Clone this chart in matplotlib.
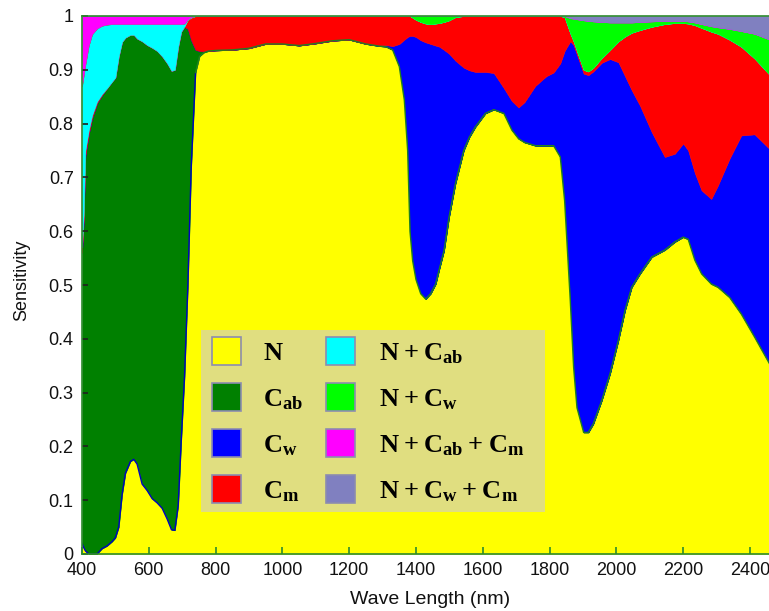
import numpy as np
import matplotlib
matplotlib.use("Agg")
import matplotlib.pyplot as plt
from matplotlib.patches import Rectangle

# Wavelength grid (nm)
wavelength = [
    400, 405, 410, 420, 430, 445, 460, 475, 490, 500,
    510, 520, 530, 545, 555, 565, 580, 595, 610, 625,
    640, 655, 668, 678, 688, 697, 707, 717, 727, 740,
    752, 765, 780, 800, 850, 900, 950, 1000, 1050, 1100,
    1150, 1200, 1250, 1290, 1310, 1330, 1350, 1365, 1375, 1382,
    1390, 1400, 1414, 1429, 1444, 1459, 1470, 1484, 1499, 1518,
    1543, 1560, 1578, 1608, 1633, 1663, 1687, 1707, 1725, 1757,
    1790, 1812, 1832, 1845, 1862, 1872, 1882, 1902, 1916, 1931,
    1956, 1981, 2006, 2026, 2046, 2071, 2106, 2145, 2175, 2200,
    2215, 2235, 2255, 2284, 2304, 2339, 2374, 2414, 2460,
]

# Cumulative sensitivity (upper edge of each stacked band)
n_top = [
    0.020, 0.012, 0.006, 0.000, 0.000, 0.000, 0.010, 0.015, 0.023, 0.030,
    0.050, 0.110, 0.150, 0.172, 0.176, 0.167, 0.130, 0.118, 0.103, 0.095,
    0.085, 0.065, 0.045, 0.044, 0.090, 0.210, 0.330, 0.500, 0.720, 0.895,
    0.925, 0.932, 0.935, 0.936, 0.937, 0.940, 0.948, 0.948, 0.945, 0.949,
    0.954, 0.956, 0.948, 0.944, 0.943, 0.937, 0.906, 0.844, 0.750, 0.600,
    0.545, 0.510, 0.484, 0.474, 0.484, 0.502, 0.530, 0.564, 0.626, 0.688,
    0.750, 0.775, 0.794, 0.819, 0.826, 0.819, 0.788, 0.772, 0.765, 0.759,
    0.759, 0.759, 0.738, 0.657, 0.471, 0.347, 0.272, 0.226, 0.226, 0.242,
    0.285, 0.335, 0.397, 0.453, 0.496, 0.521, 0.552, 0.565, 0.580, 0.589,
    0.585, 0.546, 0.521, 0.502, 0.496, 0.477, 0.446, 0.403, 0.352,
]

cab_top = [
    0.560, 0.620, 0.740, 0.780, 0.810, 0.838, 0.853, 0.866, 0.878, 0.886,
    0.925, 0.952, 0.960, 0.965, 0.965, 0.958, 0.953, 0.946, 0.941, 0.935,
    0.925, 0.912, 0.898, 0.900, 0.943, 0.971, 0.980, 0.976, 0.955, 0.937,
    0.935, 0.934, 0.935, 0.936, 0.937, 0.940, 0.948, 0.948, 0.945, 0.949,
    0.954, 0.956, 0.948, 0.944, 0.943, 0.937, 0.906, 0.844, 0.750, 0.600,
    0.545, 0.510, 0.484, 0.474, 0.484, 0.502, 0.530, 0.564, 0.626, 0.688,
    0.750, 0.775, 0.794, 0.819, 0.826, 0.819, 0.788, 0.772, 0.765, 0.759,
    0.759, 0.759, 0.738, 0.657, 0.471, 0.347, 0.272, 0.226, 0.226, 0.242,
    0.285, 0.335, 0.397, 0.453, 0.496, 0.521, 0.552, 0.565, 0.580, 0.589,
    0.585, 0.546, 0.521, 0.502, 0.496, 0.477, 0.446, 0.403, 0.352,
]

cw_top = [
    0.560, 0.620, 0.740, 0.780, 0.810, 0.838, 0.853, 0.866, 0.878, 0.886,
    0.925, 0.952, 0.960, 0.965, 0.965, 0.958, 0.953, 0.946, 0.941, 0.935,
    0.925, 0.912, 0.898, 0.900, 0.943, 0.971, 0.980, 0.976, 0.955, 0.937,
    0.935, 0.934, 0.935, 0.936, 0.937, 0.940, 0.948, 0.948, 0.945, 0.949,
    0.954, 0.956, 0.948, 0.945, 0.946, 0.944, 0.948, 0.956, 0.961, 0.963,
    0.963, 0.961, 0.955, 0.951, 0.948, 0.945, 0.943, 0.937, 0.930, 0.917,
    0.904, 0.899, 0.896, 0.896, 0.894, 0.866, 0.842, 0.830, 0.840, 0.870,
    0.888, 0.895, 0.912, 0.935, 0.953, 0.946, 0.928, 0.893, 0.890, 0.897,
    0.913, 0.920, 0.914, 0.888, 0.862, 0.833, 0.784, 0.738, 0.744, 0.763,
    0.750, 0.708, 0.676, 0.660, 0.685, 0.735, 0.778, 0.780, 0.752,
]

cm_top = [
    0.570, 0.630, 0.750, 0.787, 0.815, 0.841, 0.855, 0.866, 0.878, 0.886,
    0.925, 0.952, 0.960, 0.965, 0.965, 0.958, 0.953, 0.946, 0.941, 0.935,
    0.925, 0.912, 0.898, 0.900, 0.943, 0.971, 0.981, 0.993, 0.997, 1.000,
    1.000, 1.000, 1.000, 1.000, 1.000, 1.000, 1.000, 1.000, 1.000, 1.000,
    1.000, 1.000, 1.000, 1.000, 1.000, 1.000, 1.000, 1.000, 1.000, 1.000,
    0.997, 0.993, 0.989, 0.986, 0.985, 0.986, 0.987, 0.989, 0.992, 0.998,
    1.000, 1.000, 1.000, 1.000, 1.000, 1.000, 1.000, 1.000, 1.000, 1.000,
    1.000, 1.000, 1.000, 0.998, 0.968, 0.953, 0.935, 0.900, 0.897, 0.904,
    0.922, 0.937, 0.953, 0.962, 0.969, 0.974, 0.980, 0.985, 0.987, 0.987,
    0.986, 0.983, 0.978, 0.971, 0.967, 0.956, 0.943, 0.921, 0.890,
]

ncab_top = [
    0.870, 0.890, 0.910, 0.945, 0.966, 0.977, 0.982, 0.984, 0.985, 0.985,
    0.985, 0.985, 0.985, 0.985, 0.985, 0.985, 0.985, 0.985, 0.985, 0.985,
    0.985, 0.985, 0.985, 0.985, 0.985, 0.985, 0.986, 0.994, 0.998, 1.000,
    1.000, 1.000, 1.000, 1.000, 1.000, 1.000, 1.000, 1.000, 1.000, 1.000,
    1.000, 1.000, 1.000, 1.000, 1.000, 1.000, 1.000, 1.000, 1.000, 1.000,
    0.997, 0.993, 0.989, 0.986, 0.985, 0.986, 0.987, 0.989, 0.992, 0.998,
    1.000, 1.000, 1.000, 1.000, 1.000, 1.000, 1.000, 1.000, 1.000, 1.000,
    1.000, 1.000, 1.000, 0.998, 0.968, 0.953, 0.935, 0.900, 0.897, 0.904,
    0.922, 0.937, 0.953, 0.962, 0.969, 0.974, 0.980, 0.985, 0.987, 0.987,
    0.986, 0.983, 0.978, 0.971, 0.967, 0.956, 0.943, 0.921, 0.890,
]

ncw_top = [
    0.870, 0.890, 0.910, 0.945, 0.966, 0.977, 0.982, 0.984, 0.985, 0.985,
    0.985, 0.985, 0.985, 0.985, 0.985, 0.985, 0.985, 0.985, 0.985, 0.985,
    0.985, 0.985, 0.985, 0.985, 0.985, 0.985, 0.986, 0.994, 0.998, 1.000,
    1.000, 1.000, 1.000, 1.000, 1.000, 1.000, 1.000, 1.000, 1.000, 1.000,
    1.000, 1.000, 1.000, 1.000, 1.000, 1.000, 1.000, 1.000, 1.000, 1.000,
    1.000, 1.000, 1.000, 1.000, 1.000, 1.000, 1.000, 1.000, 1.000, 1.000,
    1.000, 1.000, 1.000, 1.000, 1.000, 1.000, 1.000, 1.000, 1.000, 1.000,
    1.000, 1.000, 1.000, 1.000, 0.996, 0.995, 0.994, 0.992, 0.991, 0.990,
    0.989, 0.988, 0.988, 0.988, 0.988, 0.989, 0.990, 0.991, 0.991, 0.991,
    0.990, 0.988, 0.985, 0.981, 0.979, 0.976, 0.972, 0.967, 0.956,
]

ncabcm_top = [
    1.000, 1.000, 1.000, 1.000, 1.000, 1.000, 1.000, 1.000, 1.000, 1.000,
    1.000, 1.000, 1.000, 1.000, 1.000, 1.000, 1.000, 1.000, 1.000, 1.000,
    1.000, 1.000, 1.000, 1.000, 1.000, 1.000, 1.000, 1.000, 1.000, 1.000,
    1.000, 1.000, 1.000, 1.000, 1.000, 1.000, 1.000, 1.000, 1.000, 1.000,
    1.000, 1.000, 1.000, 1.000, 1.000, 1.000, 1.000, 1.000, 1.000, 1.000,
    1.000, 1.000, 1.000, 1.000, 1.000, 1.000, 1.000, 1.000, 1.000, 1.000,
    1.000, 1.000, 1.000, 1.000, 1.000, 1.000, 1.000, 1.000, 1.000, 1.000,
    1.000, 1.000, 1.000, 1.000, 0.996, 0.995, 0.994, 0.992, 0.991, 0.990,
    0.989, 0.988, 0.988, 0.988, 0.988, 0.989, 0.990, 0.991, 0.991, 0.991,
    0.990, 0.988, 0.985, 0.981, 0.979, 0.976, 0.972, 0.967, 0.956,
]

band_labels = [
    r"$\mathbf{N}$", r"$\mathbf{C_{ab}}$", r"$\mathbf{C_w}$", r"$\mathbf{C_m}$",
    r"$\mathbf{N + C_{ab}}$", r"$\mathbf{N + C_w}$",
    r"$\mathbf{N + C_{ab} + C_m}$", r"$\mathbf{N + C_w + C_m}$",
]
band_colors = ["#FFFF00", "#008000", "#0000FF", "#FF0000",
               "#00FFFF", "#00FF00", "#FF00FF", "#8080C0"]

x_ticks = [400, 600, 800, 1000, 1200, 1400, 1600, 1800, 2000, 2200, 2400]
y_ticks = [0, 0.1, 0.2, 0.3, 0.4, 0.5, 0.6, 0.7, 0.8, 0.9, 1.0]
y_tick_labels = ["0", "0.1", "0.2", "0.3", "0.4", "0.5", "0.6", "0.7", "0.8", "0.9", "1"]

plt.rcParams["mathtext.fontset"] = "custom"
plt.rcParams["mathtext.rm"] = "Liberation Serif"
plt.rcParams["mathtext.bf"] = "Liberation Serif:bold"
plt.rcParams["font.family"] = ["Liberation Sans", "DejaVu Sans"]

W, H = 769, 611
fig = plt.figure(figsize=(W / 100, H / 100), dpi=100)
fig.patch.set_facecolor("white")
ax = fig.add_axes([82 / W, 57 / H, 687 / W, 538 / H])

wl = np.array(wavelength, dtype=float)
edges = [np.zeros_like(wl), np.array(n_top), np.array(cab_top), np.array(cw_top),
         np.array(cm_top), np.array(ncab_top), np.array(ncw_top),
         np.array(ncabcm_top), np.ones_like(wl)]

for lo, hi, c in zip(edges[:-1], edges[1:], band_colors):
    ax.fill_between(wl, lo, hi, facecolor=c, edgecolor=c, linewidth=0.4)

# thin outline along the N boundary
n_arr = np.array(n_top)
vis = wl <= 745
ax.plot(wl[vis], n_arr[vis], color="#0000C0", lw=1.0)
ax.plot(wl[wl >= 740], n_arr[wl >= 740], color="#208020", lw=1.0)

ax.set_xlim(400, 2457)
ax.set_ylim(0, 1)

spine_green = "#2E8B2E"
for side in ("left", "top", "bottom"):
    ax.spines[side].set_color(spine_green)
    ax.spines[side].set_linewidth(1.2)
ax.spines["right"].set_visible(False)

ax.set_xticks(x_ticks)
ax.set_xticklabels([str(t) for t in x_ticks])
ax.set_yticks(y_ticks)
ax.set_yticklabels(y_tick_labels)
ax.tick_params(axis="x", direction="in", length=5, width=1.2, color=spine_green,
               labelsize=13, pad=6, top=False)
ax.tick_params(axis="y", direction="in", length=4, width=1.2, color="#202020",
               labelsize=13, pad=6, right=False)
for lab in ax.get_xticklabels() + ax.get_yticklabels():
    lab.set_color("#111111")

fig.text(22 / W, 1 - 280 / H, "Sensitivity", rotation=90, ha="center", va="center",
         fontsize=13, color="#111111")
fig.text(430 / W, 1 - 600 / H, "Wave Length (nm)", ha="center", va="center",
         fontsize=14, color="#111111")

# legend panel
def fig_rect(x, y, w, h, **kw):
    return Rectangle((x / W, 1 - (y + h) / H), w / W, h / H,
                     transform=fig.transFigure, **kw)

fig.add_artist(fig_rect(201, 330, 344, 182, facecolor="#E0DE80",
                        edgecolor="none", zorder=5))
row_centers = [351, 397, 443, 489]
col_box_x = [212, 326]
col_text_x = [263, 379]
for i, (lab, col) in enumerate(zip(band_labels, band_colors)):
    c, r = divmod(i, 4)
    yc = row_centers[r]
    fig.add_artist(fig_rect(col_box_x[c], yc - 14, 29, 28, facecolor=col,
                            edgecolor="#8C8CB0", linewidth=1.2, zorder=6))
    fig.text(col_text_x[c] / W, 1 - (yc + 9) / H, lab, fontsize=19,
             ha="left", va="baseline", color="black", zorder=7)

fig.savefig("out.png", dpi=100)
